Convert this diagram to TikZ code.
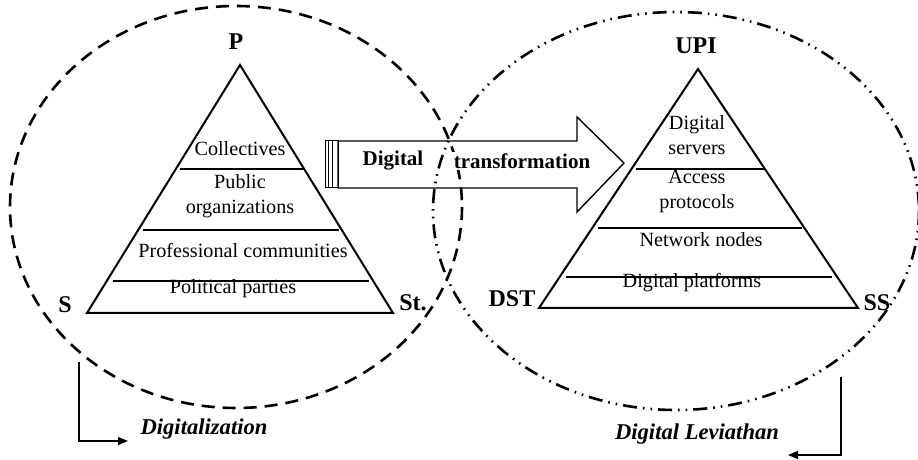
\documentclass[tikz,border=0pt]{standalone}
\usepackage{fontspec}
\setmainfont{Liberation Serif}
\usetikzlibrary{arrows.meta}

\begin{document}
\begin{tikzpicture}[x=0.5pt,y=-0.5pt,
  layer/.style={font=\fontsize{10.1}{12.5}\selectfont,align=center,inner sep=0pt},
  corner/.style={font=\fontsize{12}{14}\selectfont\bfseries,inner sep=0pt},
  arrowtext/.style={font=\fontsize{10.5}{12}\selectfont\bfseries,inner sep=0pt},
  caption/.style={font=\fontsize{11.3}{13}\selectfont\bfseries\itshape,inner sep=0pt},
  pyr/.style={line width=1pt,line join=miter},
  sep/.style={line width=0.8pt},
  flow/.style={line width=0.6pt,-{Triangle[length=5pt,width=4pt]}}]
\useasboundingbox (0,0) rectangle (918,460);

% Fields (ellipses)
\draw[line width=1.3pt,dash pattern=on 6.5pt off 4pt] (236,207) ellipse [x radius=226,y radius=201];
\draw[line width=1.3pt,dash pattern=on 7pt off 3pt on 0.8pt off 3pt on 0.8pt off 3pt] (676,211) ellipse [x radius=243,y radius=199];

% Transformation arrow
\draw[line width=0.7pt] (338,141) -- (577,141) -- (577,117) -- (624,163) -- (577,212) -- (577,188) -- (338,188) -- cycle;
\draw[line width=0.5pt] (325,141) rectangle (338,188);
\draw[line width=0.5pt] (328.5,141) -- (328.5,188);
\draw[line width=0.5pt] (332,141) -- (332,188);
\node[arrowtext] (dig) at (393,161) {Digital};
\node[arrowtext,fill=white,inner sep=1pt] (trans) at (522,161) {transformation};

% Left pyramid
\draw[pyr] (240,65) -- (87,313) -- (393,313) -- cycle;
\draw[sep] (180,169) -- (303,169);
\draw[sep] (143,230) -- (339,230);
\draw[sep] (113,281) -- (369,281);
\node[corner] (p) at (236,42) {P};
\node[corner] (s) at (65,305) {S};
\node[corner] (st) at (413,303) {St.};
\node[layer] (coll) at (240,149) {Collectives};
\node[layer] (pub) at (240,196) {Public\\organizations};
\node[layer] (prof) at (243,250) {Professional communities};
\node[layer] (pol) at (233,289) {Political parties};

% Right pyramid
\draw[pyr] (698,69) -- (539,308) -- (858,308) -- cycle;
\draw[sep] (636,169) -- (764,169);
\draw[sep] (598,228) -- (802,228);
\draw[sep] (566,277) -- (832,277);
\node[corner] (upi) at (696,46) {UPI};
\node[corner] (dst) at (512,299) {DST};
\node[corner] (ss) at (877,303) {SS};
\node[layer] (serv) at (697,135.5) {Digital\\servers};
\node[layer] (acc) at (697,191) {Access\\protocols};
\node[layer] (net) at (701,240) {Network nodes};
\node[layer] (plat) at (692,283) {Digital platforms};

% Captions
\coordinate (dz0) at (79,362);
\coordinate (dz1) at (128,441);
\draw[flow] (dz0) |- (dz1);
\node[caption] (dz) at (204,429) {Digitalization};
\coordinate (lv0) at (841,377);
\coordinate (lv1) at (788,455);
\draw[flow] (lv0) |- (lv1);
\node[caption] (lv) at (697,434) {Digital Leviathan};
\end{tikzpicture}
\end{document}
